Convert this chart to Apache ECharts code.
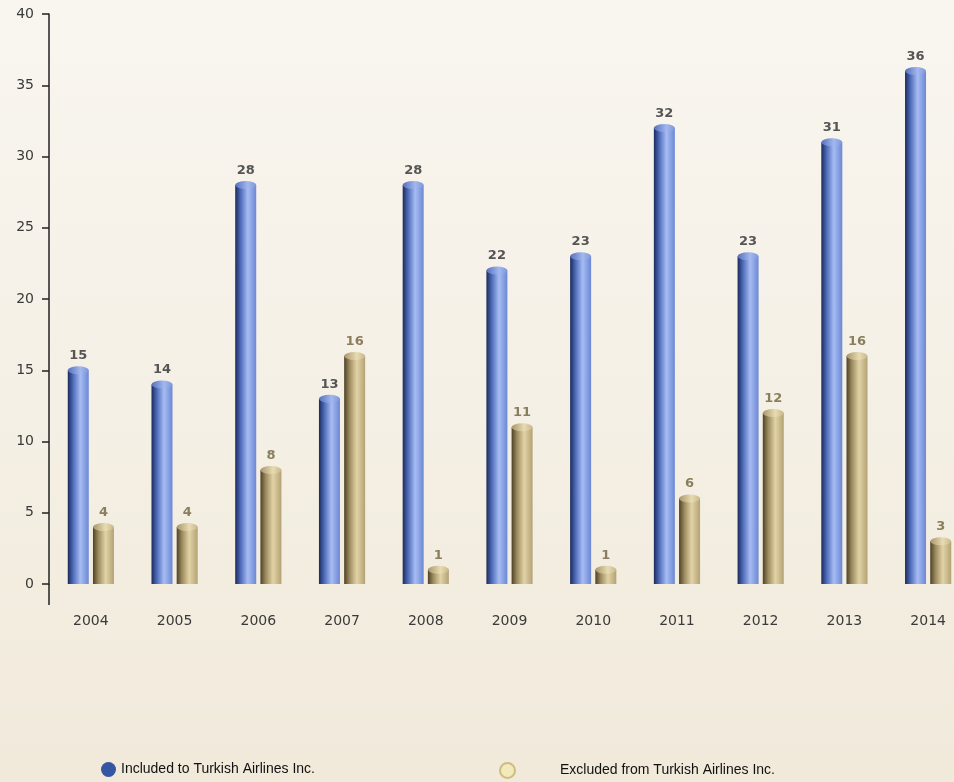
<!DOCTYPE html>
<html>
<head>
<meta charset="utf-8">
<script src="https://cdn.jsdelivr.net/npm/echarts@6/dist/echarts.min.js"></script>
<style>
html,body{margin:0;padding:0;background:#f5f0e4;overflow:hidden;width:954px;height:782px;}
#c{width:980px;height:782px;}
</style>
</head>
<body>
<div id="c"></div>
<script>
const categories = ['2004','2005','2006','2007','2008','2009','2010','2011','2012','2013','2014'];
const includedValues = [15,14,28,13,28,22,23,32,23,31,36];
const excludedValues = [4,4,8,16,1,11,1,6,12,16,3];
const yTicks = [0,5,10,15,20,25,30,35,40];
const seriesNames = ['Included to Turkish Airlines Inc.','Excluded from Turkish Airlines Inc.'];

const chart = echarts.init(document.getElementById('c'));

function hGrad(stops){
  return new echarts.graphic.LinearGradient(0,0,1,0,stops.map((c)=>({offset:c[0],color:c[1]})));
}
const blueBody = hGrad([[0,'#1b2a5a'],[0.25,'#4d6ab8'],[0.6,'#a6bcf3'],[1,'#6c88d4']]);
const goldBody = hGrad([[0,'#4e4126'],[0.25,'#9b8a5e'],[0.6,'#e2d3a6'],[1,'#b3a274']]);
const blueCap = hGrad([[0,'#5670bd'],[0.6,'#a3b8ee'],[1,'#7d96db']]);
const goldCap = hGrad([[0,'#a89769'],[0.6,'#e8dbb3'],[1,'#c7b78a']]);

const BW = 21, GAP = '20%';

chart.setOption({
  backgroundColor: new echarts.graphic.LinearGradient(0,0,0,1,[{offset:0,color:'#f9f6f0'},{offset:1,color:'#f1eadb'}]),
  animation:false,
  grid:{left:49, top:14, width:921, height:570, containLabel:false},
  legend:[
    {data:[{name:seriesNames[0], itemStyle:{color:'#3556a3'}}], left:96, top:757, icon:'circle', itemWidth:15, itemHeight:16,
     textStyle:{fontFamily:'Liberation Sans', fontSize:14, color:'#111'}, selectedMode:false},
    {data:[{name:seriesNames[1], itemStyle:{color:'#f3eabb', borderColor:'#cdbd84', borderWidth:2}}], left:494, top:757, icon:'circle', itemWidth:15, itemHeight:16,
     textStyle:{fontFamily:'Liberation Sans', fontSize:14, color:'#111', padding:[0,0,0,40]}, selectedMode:false}
  ],
  xAxis:{type:'category', data:categories, boundaryGap:true,
    axisLine:{show:false}, axisTick:{show:false},
    axisLabel:{fontFamily:'DejaVu Sans', fontSize:14, color:'#3a3a3a', margin:30}},
  yAxis:{type:'value', min:0, max:40, interval:5,
    splitLine:{show:false},
    axisLine:{show:true, lineStyle:{color:'#222', width:1.5}},
    axisTick:{show:true, inside:false, length:7, lineStyle:{color:'#222', width:1.5}},
    axisLabel:{fontFamily:'DejaVu Sans', fontSize:14, color:'#3a3a3a', margin:15}},
  series:[
    {name:seriesNames[0], type:'bar', data:includedValues, barWidth:BW, barGap:GAP,
     itemStyle:{color:blueBody},
     label:{show:true, position:'top', distance:8, fontFamily:'DejaVu Sans', fontWeight:'bold', fontSize:13, color:'#555'}},
    {name:seriesNames[1], type:'bar', data:excludedValues, barWidth:BW, barGap:GAP,
     itemStyle:{color:goldBody},
     label:{show:true, position:'top', distance:8, fontFamily:'DejaVu Sans', fontWeight:'bold', fontSize:13, color:'#8a7e5c'}},
    {name:'capA', type:'pictorialBar', data:includedValues, barWidth:BW, barGap:GAP, symbol:'circle',
     symbolSize:[BW,8], symbolPosition:'end', symbolOffset:[0,'-50%'], z:3, itemStyle:{color:blueCap}, silent:true},
    {name:'capB', type:'pictorialBar', data:excludedValues, barWidth:BW, barGap:GAP, symbol:'circle',
     symbolSize:[BW,8], symbolPosition:'end', symbolOffset:[0,'-50%'], z:3, itemStyle:{color:goldCap}, silent:true}
  ]
});

// extend the y axis line a little below zero, as in the reference
const p0 = chart.convertToPixel({yAxisIndex:0}, 0);
chart.setOption({graphic:[{type:'line', shape:{x1:49, y1:p0, x2:49, y2:p0+21}, style:{stroke:'#222', lineWidth:1.5}}]});
</script>
</body>
</html>
